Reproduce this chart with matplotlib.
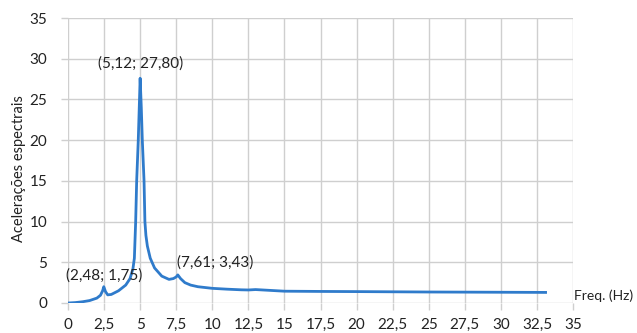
import matplotlib
matplotlib.use("Agg")
import matplotlib.pyplot as plt
import numpy as np

freq = [0.0, 0.5, 1.0, 1.5, 2.0, 2.25, 2.4, 2.48, 2.6, 2.75, 3.0, 3.5, 4.0, 4.3, 4.5, 4.6, 4.69, 4.76, 4.87,
        5.0, 5.08, 5.15, 5.27, 5.33, 5.4, 5.5, 5.7, 6.0, 6.5, 7.0, 7.3, 7.5, 7.61, 7.8, 8.1, 8.5, 9.0, 10.0,
        11.0, 12.0, 12.5, 13.0, 13.5, 15.0, 17.5, 20.0, 25.0, 30.0, 33.1]
acc = [0.0, 0.05, 0.15, 0.3, 0.6, 0.95, 1.5, 2.0, 1.4, 1.0, 1.05, 1.5, 2.2, 3.0, 4.2, 5.5, 10.0, 15.0, 20.0,
       27.6, 24.0, 20.0, 15.0, 10.0, 8.3, 7.0, 5.5, 4.3, 3.3, 2.9, 3.0, 3.2, 3.45, 3.0, 2.5, 2.2, 2.0, 1.8,
       1.7, 1.62, 1.6, 1.65, 1.6, 1.45, 1.42, 1.4, 1.35, 1.32, 1.3]

xticks = np.arange(0, 35.1, 2.5)
yticks = np.arange(0, 35.1, 5)
xtick_labels = [("%g" % v).replace(".", ",") for v in xticks]
ytick_labels = ["%d" % v for v in yticks]

annotations = [("(5,12; 27,80)", 5.12, 27.80), ("(2,48; 1,75)", 2.48, 1.75), ("(7,61; 3,43)", 7.61, 3.43)]

plt.rcParams['font.family'] = ['Lato', 'DejaVu Sans']

fig = plt.figure(figsize=(6.37, 3.33), dpi=100)
ax = fig.add_axes([68/637, 1-303/333, (573-68)/637, (303-18)/333])

ax.plot(freq, acc, color='#2F7BCB', lw=2.0, solid_joinstyle='round')

ax.set_xlim(0, 35)
ax.set_ylim(0, 35)
ax.set_xticks(xticks)
ax.set_xticklabels(xtick_labels)
ax.set_yticks(yticks)
ax.set_yticklabels(ytick_labels)
ax.grid(True, color='#cfcfcf', lw=1.0)
ax.set_axisbelow(True)
for s in ax.spines.values():
    s.set_visible(False)
ax.tick_params(axis='both', colors='#cfcfcf', length=5, width=1.0, labelsize=11, labelcolor='#222222')
ax.tick_params(axis='x', pad=6)
ax.tick_params(axis='y', pad=10)

ax.set_ylabel("Acelerações espectrais", fontsize=10.5, color='#222222')
ax.yaxis.set_label_coords(-0.083, 0.47)

offsets = {"(5,12; 27,80)": (-0.1, 0.7, 'center', 'bottom'),
           "(2,48; 1,75)": (0.05, 0.75, 'center', 'bottom'),
           "(7,61; 3,43)": (2.6, 0.7, 'center', 'bottom')}
for txt, x, y in annotations:
    dx, dy, ha, va = offsets[txt]
    ax.text(x + dx, y + dy, txt, fontsize=11, color='#222222', ha=ha, va=va)

ax.text(35.1, 0.1, "Freq. (Hz)", fontsize=10, color='#222222', ha='left', va='bottom', clip_on=False)

fig.savefig("out.png", dpi=100)
